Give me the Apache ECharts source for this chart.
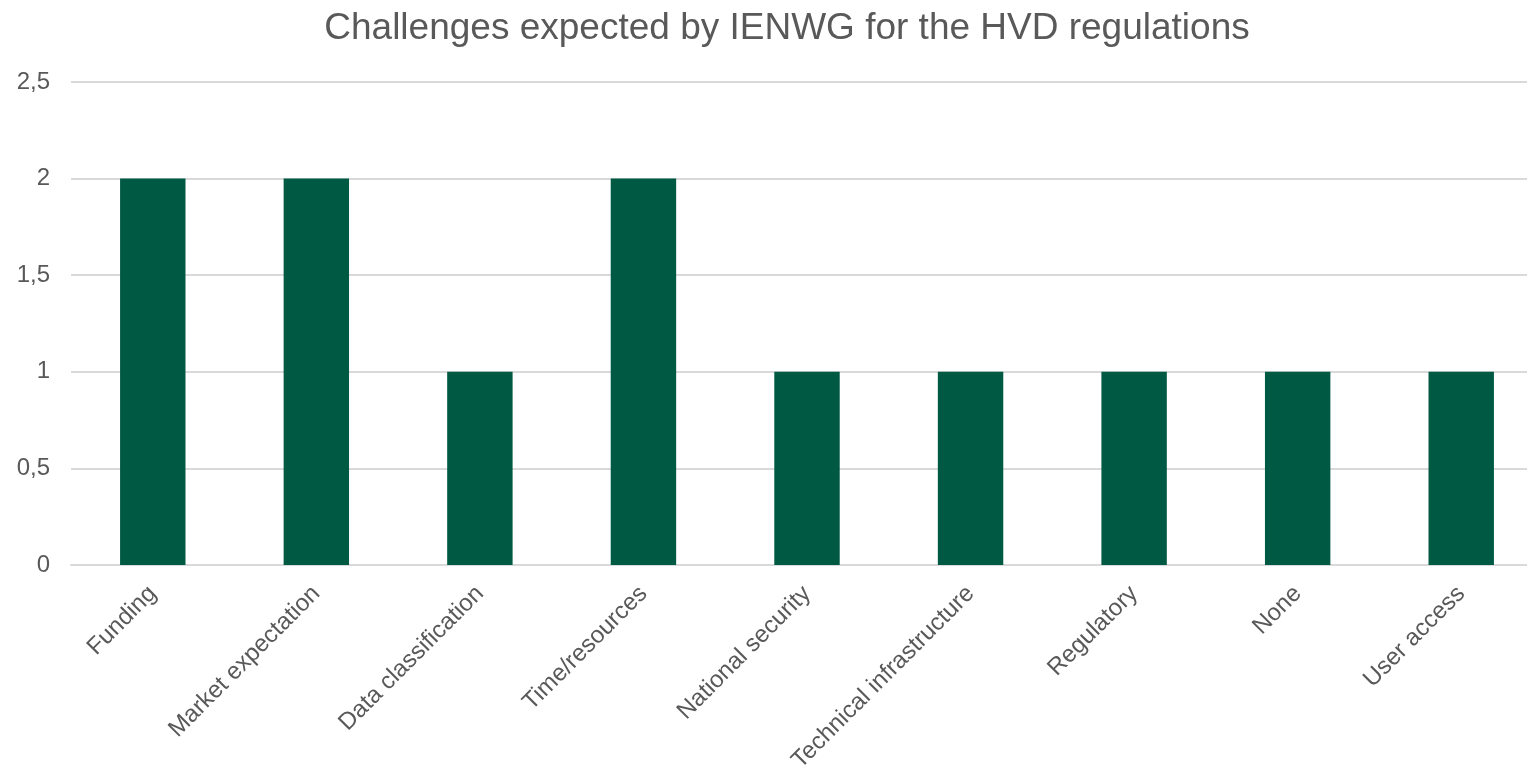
<!DOCTYPE html>
<html>
<head>
<meta charset="utf-8">
<script src="https://cdn.jsdelivr.net/npm/echarts@6/dist/echarts.min.js"></script>
<style>
html,body{margin:0;padding:0;background:#fff;overflow:hidden;width:1527px;height:768px;}
#chart{width:1543px;height:768px;}
</style>
</head>
<body>
<div id="chart"></div>
<script>
const titleText = "Challenges expected by IENWG for the HVD regulations";
const categories = ["Funding", "Market expectation", "Data classification", "Time/resources", "National security", "Technical infrastructure", "Regulatory", "None", "User access"];
const values = [2, 2, 1, 2, 1, 1, 1, 1, 1];

const chart = echarts.init(document.getElementById('chart'));
chart.setOption({
  animation: false,
  backgroundColor: '#ffffff',
  title: {
    text: titleText,
    left: 782,
    textAlign: 'center',
    top: 5,
    textStyle: { fontFamily: 'Liberation Sans, Arial, sans-serif', fontSize: 37, fontWeight: 'normal', color: '#595959' }
  },
  grid: { left: 71, right: 0, top: 82, bottom: 203, containLabel: false, outerBoundsMode: 'none' },
  xAxis: {
    type: 'category',
    data: categories,
    axisTick: { show: false },
    axisLine: { lineStyle: { color: '#d9d9d9', width: 2 } },
    axisLabel: { rotate: 45, margin: 25, interval: 0, color: '#595959', fontSize: 24, fontFamily: 'Liberation Sans, Arial, sans-serif' }
  },
  yAxis: {
    type: 'value',
    min: 0, max: 2.5, interval: 0.5,
    axisLine: { show: false },
    axisTick: { show: false },
    splitLine: { lineStyle: { color: '#d9d9d9', width: 2 } },
    axisLabel: { margin: 21, color: '#595959', fontSize: 24, fontFamily: 'Liberation Sans, Arial, sans-serif',
      formatter: v => String(v).replace('.', ',') }
  },
  series: [{
    type: 'bar',
    data: values,
    barWidth: '40%',
    itemStyle: { color: '#005A43' }
  }]
});
</script>
</body>
</html>
